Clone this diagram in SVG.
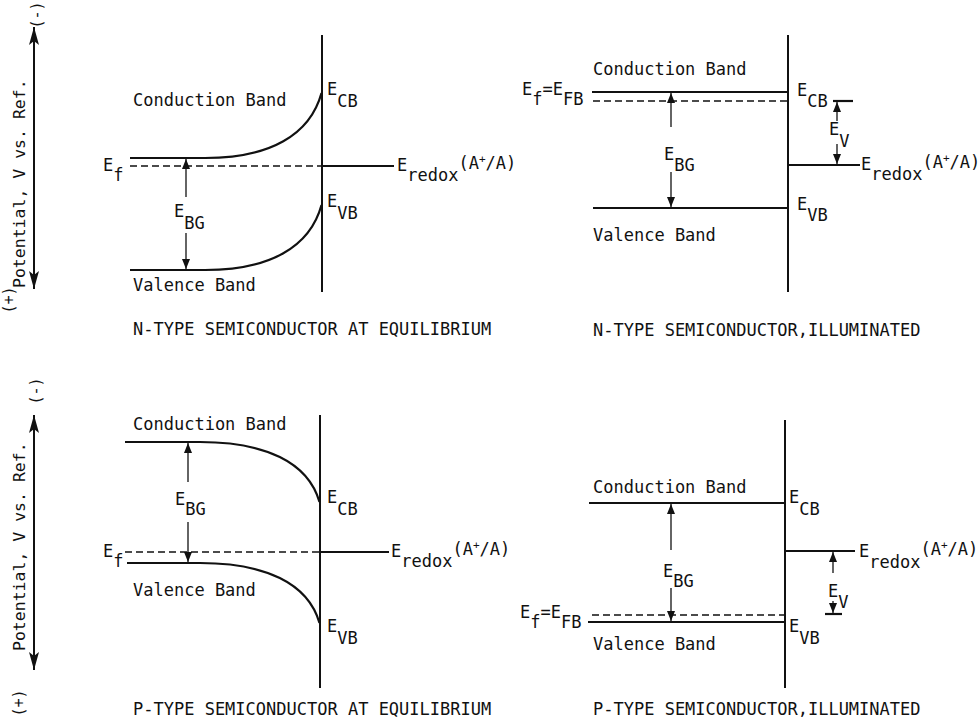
<svg xmlns="http://www.w3.org/2000/svg" width="980" height="724" viewBox="0 0 980 724">
<style>
text { font-family: "DejaVu Sans Mono", "Liberation Mono", monospace; font-size: 17px; fill: #111; }
.ax { font-size: 16.5px; }
.sign { font-size: 15px; }
.sup { font-size: 11px; }
.ln { stroke: #111; stroke-width: 2.2; fill: none; }
.surf { stroke: #111; stroke-width: 2; fill: none; }
.dash { stroke: #111; stroke-width: 1.6; fill: none; stroke-dasharray: 7 4; }
.arr { stroke: #111; stroke-width: 1.3; fill: none; marker-end: url(#ah); }
.axis { stroke: #111; stroke-width: 2; fill: none; marker-start: url(#big); marker-end: url(#big); }
</style>
<defs>
<marker id="ah" viewBox="0 0 10 8" refX="10" refY="4" markerWidth="10" markerHeight="8" markerUnits="userSpaceOnUse" orient="auto"><path d="M0,0 L10,4 L0,8 z" fill="#111"/></marker>
<marker id="big" viewBox="0 0 18 10" refX="18" refY="5" markerWidth="18" markerHeight="10" markerUnits="userSpaceOnUse" orient="auto-start-reverse"><path d="M0,0 L18,5 L0,10 L4,5 z" fill="#111"/></marker>
</defs>

<g id="axis-top">
<line class="axis" x1="34" y1="289" x2="34" y2="27"/>
<text class="sign" transform="translate(42,15) rotate(-90)" text-anchor="middle">(-)</text>
<text class="ax" transform="translate(25,288) rotate(-90)">Potential, V vs. Ref.</text>
<text class="sign" transform="translate(14,300) rotate(-90)" text-anchor="middle">(+)</text>
</g>

<g id="axis-bottom">
<line class="axis" x1="34" y1="670" x2="34" y2="415"/>
<text class="sign" transform="translate(41,391) rotate(-90)" text-anchor="middle">(-)</text>
<text class="ax" transform="translate(25,651) rotate(-90)">Potential, V vs. Ref.</text>
<text class="sign" transform="translate(24,703) rotate(-90)" text-anchor="middle">(+)</text>
</g>

<g id="n-equilibrium">
<line class="surf" x1="322" y1="35" x2="322" y2="292"/>
<path class="ln" d="M130,158 L205,158 C270,158 310,135 321.5,93"/>
<path class="ln" d="M130,270 L205,270 C270,270 310,247 321.5,205"/>
<path class="dash" d="M130,166 L322,166"/>
<path class="ln" d="M322,166 L394,166"/>
<path class="arr" d="M186,197 L186,159"/>
<path class="arr" d="M186,233 L186,269"/>
<text x="133" y="106">Conduction Band</text>
<text x="133" y="291">Valence Band</text>
<text x="103" y="171">E<tspan dy="10">f</tspan></text>
<text x="327" y="95">E<tspan dy="12">CB</tspan></text>
<text x="327" y="207">E<tspan dy="12">VB</tspan></text>
<text x="174" y="217">E<tspan dy="12">BG</tspan></text>
<text x="397" y="171">E<tspan dy="10">redox</tspan><tspan dy="-12">(A</tspan><tspan class="sup" dy="-6">+</tspan><tspan dy="6">/A)</tspan></text>
<text x="133" y="335">N-TYPE SEMICONDUCTOR AT EQUILIBRIUM</text>
</g>

<g id="n-illuminated">
<line class="surf" x1="788" y1="35" x2="788" y2="292"/>
<path class="ln" d="M592,92 L788,92"/>
<path class="dash" d="M593,101 L788,101"/>
<path class="ln" d="M593,208 L788,208"/>
<path class="ln" d="M788,165 L860,165"/>
<path class="ln" d="M833,101 L853,101"/>
<path class="arr" d="M671,127 L671,93"/>
<path class="arr" d="M671,172 L671,207"/>
<path class="arr" d="M837,121 L837,102"/>
<path class="arr" d="M837,144 L837,164"/>
<text x="593" y="75">Conduction Band</text>
<text x="593" y="241">Valence Band</text>
<text x="522" y="95">E<tspan dy="10">f</tspan><tspan dy="-10">=E</tspan><tspan dy="10">FB</tspan></text>
<text x="664" y="160">E<tspan dy="11">BG</tspan></text>
<text x="797" y="96">E<tspan dy="11">CB</tspan></text>
<text x="829" y="135">E<tspan dy="12">V</tspan></text>
<text x="861" y="170">E<tspan dy="10">redox</tspan><tspan dy="-12">(A</tspan><tspan class="sup" dy="-6">+</tspan><tspan dy="6">/A)</tspan></text>
<text x="797" y="210">E<tspan dy="11">VB</tspan></text>
<text x="593" y="336">N-TYPE SEMICONDUCTOR,ILLUMINATED</text>
</g>

<g id="p-equilibrium">
<line class="surf" x1="320" y1="415" x2="320" y2="688"/>
<path class="ln" d="M125,442 L200,442 C265,442 308,462 319.5,502"/>
<path class="ln" d="M127,563 L200,563 C265,563 308,583 319.5,623"/>
<path class="dash" d="M125,552 L320,552"/>
<path class="ln" d="M320,552 L389,552"/>
<path class="arr" d="M188,482 L188,443"/>
<path class="arr" d="M188,522 L188,562"/>
<text x="133" y="430">Conduction Band</text>
<text x="133" y="596">Valence Band</text>
<text x="103" y="557">E<tspan dy="10">f</tspan></text>
<text x="175" y="505">E<tspan dy="10">BG</tspan></text>
<text x="327" y="503">E<tspan dy="12">CB</tspan></text>
<text x="327" y="632">E<tspan dy="12">VB</tspan></text>
<text x="391" y="557">E<tspan dy="10">redox</tspan><tspan dy="-12">(A</tspan><tspan class="sup" dy="-6">+</tspan><tspan dy="6">/A)</tspan></text>
<text x="133" y="715">P-TYPE SEMICONDUCTOR AT EQUILIBRIUM</text>
</g>

<g id="p-illuminated">
<line class="surf" x1="785" y1="420" x2="785" y2="688"/>
<path class="ln" d="M589,503 L785,503"/>
<path class="dash" d="M592,615 L785,615"/>
<path class="ln" d="M588,622 L785,622"/>
<path class="ln" d="M785,551 L855,551"/>
<path class="ln" d="M825,614 L842,614"/>
<path class="arr" d="M671,550 L671,504"/>
<path class="arr" d="M671,588 L671,621"/>
<path class="arr" d="M833,573 L833,552"/>
<path class="arr" d="M833,601 L833,613"/>
<text x="593" y="493">Conduction Band</text>
<text x="593" y="650">Valence Band</text>
<text x="520" y="618">E<tspan dy="10">f</tspan><tspan dy="-10">=E</tspan><tspan dy="10">FB</tspan></text>
<text x="663" y="577">E<tspan dy="10">BG</tspan></text>
<text x="789" y="503">E<tspan dy="12">CB</tspan></text>
<text x="828" y="597">E<tspan dy="11">V</tspan></text>
<text x="859" y="557">E<tspan dy="11">redox</tspan><tspan dy="-13">(A</tspan><tspan class="sup" dy="-6">+</tspan><tspan dy="6">/A)</tspan></text>
<text x="789" y="632">E<tspan dy="12">VB</tspan></text>
<text x="593" y="715">P-TYPE SEMICONDUCTOR,ILLUMINATED</text>
</g>
</svg>
